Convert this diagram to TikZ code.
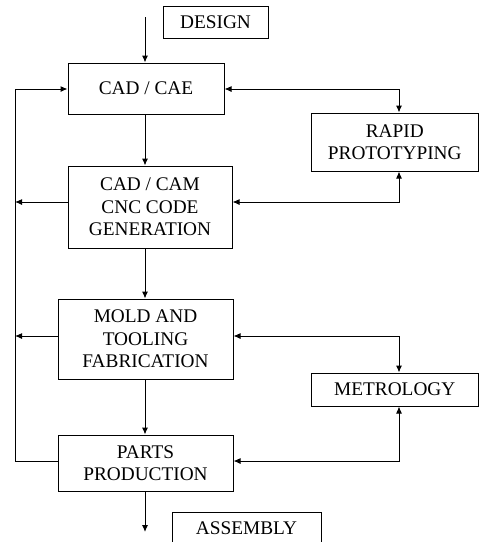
\documentclass[tikz,border=0pt]{standalone}
\usepackage{fontspec}
\setmainfont{Liberation Serif}
\usetikzlibrary{arrows.meta}
\begin{document}
\begin{tikzpicture}[x=1pt,y=-1pt,
  box/.style={draw=black, line width=1pt, inner sep=0pt, align=center,
    font=\fontsize{19.3}{22.5}\selectfont},
  conn/.style={draw=black, line width=1pt},
  tip/.style={-{Latex[length=7pt,width=6pt]}},
  tips/.style={{Latex[length=7pt,width=6pt]}-{Latex[length=7pt,width=6pt]}}]
\useasboundingbox (0,0) rectangle (479,542);
\clip (0,0) rectangle (479,542);
\fill[white] (0,0) rectangle (479,542);
\node[box, minimum width=105pt, minimum height=32pt] (design) at (215.5,22) {DESIGN};
\node[box, minimum width=156pt, minimum height=51pt] (cadcae) at (146,88.5) {CAD / CAE};
\node[box, minimum width=164pt, minimum height=82pt] (cam) at (150,207) {CAD / CAM\\CNC CODE\\GENERATION};
\node[box, minimum width=175pt, minimum height=80pt] (mold) at (145.5,339) {MOLD AND\\TOOLING\\FABRICATION};
\node[box, minimum width=175pt, minimum height=56pt] (parts) at (145.5,463) {PARTS\\PRODUCTION};
\node[box, minimum width=149pt, minimum height=32pt] (assembly) at (246.5,528) {ASSEMBLY};
\node[box, minimum width=167.5pt, minimum height=58pt] (rp) at (394.75,142) {RAPID\\PROTOTYPING};
\node[box, minimum width=167.5pt, minimum height=33pt] (metro) at (394.75,389.5) {METROLOGY};
\coordinate (in) at (145,17);
\coordinate (out) at (145,532);
\coordinate (loopx) at (15,0);
\coordinate (rx) at (399,0);
% main flow
\draw[conn,tip] (in) -- (in |- cadcae.north);
\draw[conn,tip] (cadcae.south -| in) -- (cam.north -| in);
\draw[conn,tip] (cam.south -| in) -- (mold.north -| in);
\draw[conn,tip] (mold.south -| in) -- (parts.north -| in);
\draw[conn,tip] (parts.south -| in) -- (out);
% feedback loop on the left
\draw[conn,tip] (parts.west |- 0,461) -- (loopx |- 0,461) -- (loopx |- 0,89) -- (cadcae.west |- 0,89);
\draw[conn,tip] (cam.west |- 0,202) -- (loopx |- 0,202);
\draw[conn,tip] (mold.west |- 0,336) -- (loopx |- 0,336);
% right side links
\draw[conn,tips] (cadcae.east |- 0,89) -- (rx |- 0,89) -- (rx |- rp.north);
\draw[conn,tips] (cam.east |- 0,202) -- (rx |- 0,202) -- (rx |- rp.south);
\draw[conn,tips] (mold.east |- 0,336) -- (rx |- 0,336) -- (rx |- metro.north);
\draw[conn,tips] (parts.east |- 0,461) -- (rx |- 0,461) -- (rx |- metro.south);
\end{tikzpicture}
\end{document}
